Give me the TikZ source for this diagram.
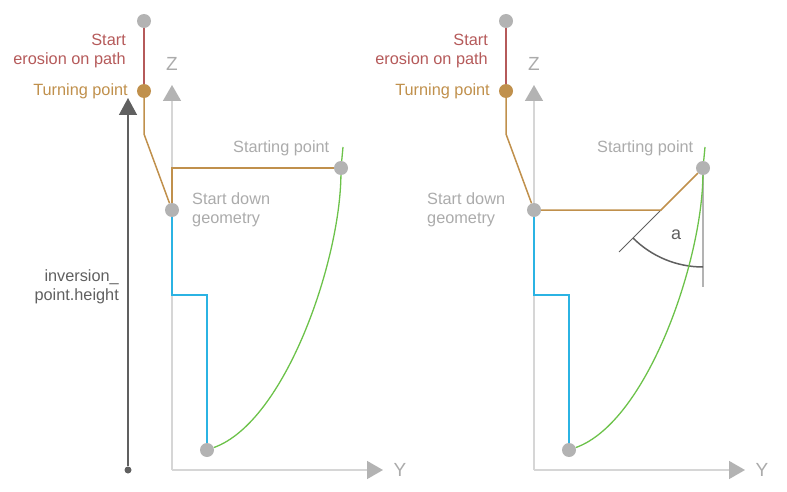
\documentclass[tikz,border=0pt]{standalone}
\usepackage{fontspec}
\setmainfont{Liberation Sans}
\usetikzlibrary{arrows.meta}

\definecolor{dotgray}{HTML}{B3B3B3}
\definecolor{axisline}{HTML}{D6D6D6}
\definecolor{axishead}{HTML}{B3B3B3}
\definecolor{erored}{HTML}{B55A5A}
\definecolor{turnbrown}{HTML}{C0904C}
\definecolor{downblue}{HTML}{2BB3E3}
\definecolor{pathgreen}{HTML}{6CC24A}
\definecolor{heightdark}{HTML}{606060}
\definecolor{txtgray}{HTML}{ABABAB}

\begin{document}
\begin{tikzpicture}[x=1pt, y=-1pt,
  dot/.style={circle, fill=dotgray, inner sep=0pt, minimum size=14pt},
  turndot/.style={dot, fill=turnbrown},
  lbl/.style={font=\fontsize{16.3}{19.5}\selectfont, inner sep=0pt},
  axlbl/.style={font=\fontsize{19}{22}\selectfont, inner sep=0pt, txtgray},
  axis/.style={line width=1.5pt, axisline, -{Triangle[width=18pt,length=16pt,color=axishead]}},
  redline/.style={line width=1.5pt, erored},
  brownline/.style={line width=1.5pt, turnbrown},
  blueline/.style={line width=1.5pt, downblue},
  greenline/.style={line width=1.3pt, pathgreen}]
\useasboundingbox (0,0) rectangle (787,492);

% left picture
\coordinate (lo) at (172,470);
\draw [axis] (lo) -- (172,85);
\draw [axis] (lo) -- (383,470);
\node [axlbl] (lz) at (172,64) {Z};
\node [axlbl] (ly) at (400,470) {Y};

\node [dot] (ltop) at (144,21) {};
\node [turndot] (lturn) at (144,91) {};
\node [dot] (lsdg) at (172,210) {};
\node [dot] (lspt) at (341,168) {};
\node [dot] (lbot) at (207,450) {};
\coordinate (lbend) at (144,134);
\coordinate (lstep) at (172,295);
\coordinate (lgtop) at (343,147);

\draw [redline] (ltop) -- (lturn);
\draw [brownline] (lturn) -- (lbend) -- (lsdg);
\draw [brownline] (lsdg) |- (lspt);
\draw [blueline] (lsdg) -- (lstep) -| (lbot);
\draw [greenline] (lbot) .. controls (285,422) and (340,262) .. (lspt);
\draw [greenline] (lspt) -- (lgtop);

\node [circle, fill=heightdark, inner sep=0pt, minimum size=7pt] (lhbase) at (128,470) {};
\coordinate (lhtop) at (128,98);
\draw [line width=1.5pt, heightdark, -{Triangle[width=18pt,length=17pt]}] (lhbase) -- (lhtop);

\node [lbl, erored, align=right, anchor=east] (lero) at (126,51) {Start\\erosion on path};
\node [lbl, turnbrown, anchor=east] (lturnlbl) at (128,91) {Turning point};
\node [lbl, txtgray, anchor=west] (lsptlbl) at (233,148) {Starting point};
\node [lbl, txtgray, align=left, anchor=west] (lsdglbl) at (192,210) {Start down\\geometry};
\node [lbl, heightdark, align=right, anchor=east] (lhlbl) at (119,287) {inversion\_\\point.height};

% right picture
\coordinate (ro) at (534,470);
\draw [axis] (ro) -- (534,85);
\draw [axis] (ro) -- (745,470);
\node [axlbl] (rz) at (534,64) {Z};
\node [axlbl] (ry) at (762,470) {Y};

\node [dot] (rtop) at (506,21) {};
\node [turndot] (rturn) at (506,91) {};
\node [dot] (rsdg) at (534,210) {};
\node [dot] (rspt) at (703,168) {};
\node [dot] (rbot) at (569,450) {};
\coordinate (rbend) at (506,134);
\coordinate (rstep) at (534,295);
\coordinate (rgtop) at (705,147);
\coordinate (rknee) at (661,210);
\coordinate (rext) at (619,252);
\coordinate (rvend) at (703,287);
\coordinate (rarc) at (703,267);

\draw [line width=1.5pt, dotgray] (rspt) -- (rvend);
\draw [line width=0.8pt, heightdark] (rknee) -- (rext);
\draw [line width=1.5pt, heightdark] (rarc) arc [start angle=90, end angle=135, radius=99];

\draw [redline] (rtop) -- (rturn);
\draw [brownline] (rturn) -- (rbend) -- (rsdg);
\draw [brownline] (rsdg) -- (rknee) -- (rspt);
\draw [blueline] (rsdg) -- (rstep) -| (rbot);
\draw [greenline] (rbot) .. controls (647,422) and (702,262) .. (rspt);
\draw [greenline] (rspt) -- (rgtop);

\node [lbl, erored, align=right, anchor=east] (rero) at (488,51) {Start\\erosion on path};
\node [lbl, turnbrown, anchor=east] (rturnlbl) at (490,91) {Turning point};
\node [lbl, txtgray, anchor=west] (rsptlbl) at (597,148) {Starting point};
\node [lbl, txtgray, align=left, anchor=west] (rsdglbl) at (427,210) {Start down\\geometry};
\node [lbl, heightdark, font=\fontsize{18}{20}\selectfont] (ralpha) at (676,235) {a};
\end{tikzpicture}
\end{document}
